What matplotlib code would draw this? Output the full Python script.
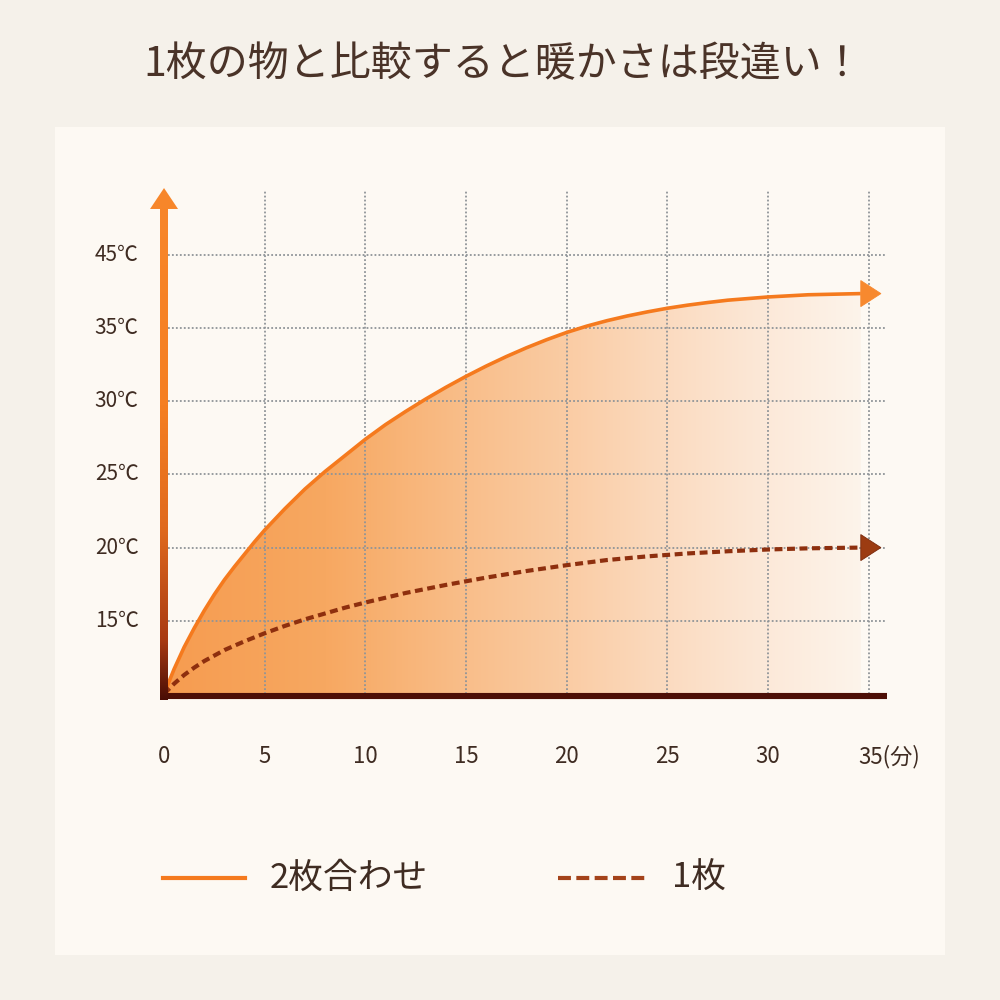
import numpy as np
import matplotlib
matplotlib.use("Agg")
import matplotlib.pyplot as plt
from matplotlib.colors import LinearSegmentedColormap
from matplotlib.patches import Polygon, Rectangle
from matplotlib.lines import Line2D
import matplotlib.transforms as mtransforms

plt.rcParams['font.family'] = ['Noto Sans CJK JP', 'DejaVu Sans']

# ---------------- data ----------------
title = "1枚の物と比較すると暖かさは段違い！"
series_names = ["2枚合わせ", "1枚"]

x_ticks = [0, 5, 10, 15, 20, 25, 30, 35]
x_tick_labels = ["0", "5", "10", "15", "20", "25", "30", "35(分)"]
y_ticks = [15, 20, 25, 30, 35, 40]
y_tick_labels = ["15℃", "20℃", "25℃", "30℃", "35℃", "45℃"]

minutes_double = [0, 0.5, 1, 1.5, 2, 2.5, 3, 3.5, 4, 4.5, 5, 6, 7, 8, 9, 10, 11,
                  12, 13, 14, 15, 16, 17, 18, 19, 20, 21, 22, 23, 24, 25, 26, 27,
                  28, 30, 32, 34.6]
temp_double = [10, 11.7, 13.2, 14.5, 15.7, 16.8, 17.8, 18.7, 19.55, 20.4, 21.2,
               22.65, 24.0, 25.2, 26.3, 27.4, 28.4, 29.3, 30.15, 30.95, 31.7,
               32.4, 33.05, 33.65, 34.2, 34.7, 35.13, 35.5, 35.82, 36.1, 36.35,
               36.56, 36.74, 36.9, 37.12, 37.27, 37.35]

minutes_single = [0, 0.5, 1, 1.5, 2, 3, 4, 5, 6, 7, 8, 9, 10, 12, 14, 16, 18, 20,
                  22, 24, 26, 28, 30, 32, 34.6]
temp_single = [10, 10.7, 11.3, 11.8, 12.25, 13.0, 13.6, 14.15, 14.65, 15.1, 15.5,
               15.9, 16.25, 16.9, 17.45, 17.95, 18.4, 18.8, 19.15, 19.4, 19.6,
               19.75, 19.87, 19.95, 20.0]

# ---------------- style ----------------
outer_bg = "#f5f1ea"
panel_bg = "#fdf9f3"
text_col = "#3f2c22"
title_col = "#4a3328"
orange = "#f57a1e"
orange_head = "#f7892f"
rust = "#8e2f0e"
rust_head = "#9c3c12"
grid_col = "#8f9498"

fig = plt.figure(figsize=(10, 10), dpi=100, facecolor=outer_bg)
fig.patches.append(Rectangle((0.055, 0.045), 0.89, 0.828, transform=fig.transFigure,
                             facecolor=panel_bg, edgecolor="none", zorder=-5))

fig.text(0.503, 0.935, title, ha="center", va="center", fontsize=29.5, color=title_col)

ax = fig.add_axes([0.160, 0.2987, 0.733, 0.5197])
ax.set_zorder(2)
ax.set_facecolor("none")
for s in ax.spines.values():
    s.set_visible(False)
ax.set_xticks([])
ax.set_yticks([])

xd = np.array(minutes_double)
yd = np.array(temp_double)
xs = np.array(minutes_single)
ys = np.array(temp_single)
base = 10

# gradient fill under the double curve
grad_stops = [(0.0, "#f69c50"), (8 / 35.6, "#f7a861"), (15 / 35.6, "#f9be8a"),
              (20 / 35.6, "#facca4"), (25 / 35.6, "#fbdbc0"), (30 / 35.6, "#fce9d9"),
              (1.0, "#fdf6ee")]
gcmap = LinearSegmentedColormap.from_list("g", grad_stops)
poly = Polygon(np.column_stack([np.r_[xd, xd[-1], 0], np.r_[yd, base, base]]),
               closed=True, facecolor="none", edgecolor="none", transform=ax.transData)
ax.add_patch(poly)
grad = gcmap(np.linspace(0, 1, 512))[np.newaxis, :, :3]
im = ax.imshow(grad, extent=[0, 35.6, base, 45], aspect="auto", origin="lower",
               zorder=1, interpolation="bilinear")
im.set_clip_path(poly)

# grid
for xv in x_ticks[1:]:
    ax.plot([xv, xv], [base, 44.4], color=grid_col, lw=1.3, ls=(0, (1, 1.2)), zorder=2)
for yv in y_ticks:
    ax.plot([0, 35.8], [yv, yv], color=grid_col, lw=1.3, ls=(0, (1, 1.2)), zorder=2)

# curves
ax.plot(xd, yd, color=orange, lw=2.6, zorder=4, solid_capstyle="butt",
        solid_joinstyle="round")
ax.plot(xs, ys, color=rust, lw=3.0, ls=(0, (1.9, 1.1)), zorder=4)

def head(xe, ye, color, ec):
    L, H = 1.0, 0.89
    ax.add_patch(Polygon([[xe, ye + H], [xe + L, ye], [xe, ye - H]], closed=True,
                         facecolor=color, edgecolor=ec, lw=0.6, zorder=5,
                         clip_on=False))

head(xd[-1], yd[-1], orange_head, orange_head)
head(xs[-1], ys[-1], rust_head, "#7a2a0c")

# x axis
ax.plot([-0.2, 35.9], [9.85, 9.85], color="#4d0f06", lw=4.4, solid_capstyle="butt",
        zorder=6, clip_on=False)

# y axis with vertical gradient colour
acmap = LinearSegmentedColormap.from_list("a", [(0, "#4a0d05"), (0.12, "#a83a12"),
                                               (0.35, "#e06a1e"), (0.6, "#f57f22"),
                                               (1.0, "#f8862a")])
vgrad = acmap(np.linspace(0, 1, 256))[:, np.newaxis, :3]
ax.imshow(vgrad, extent=[-0.18, 0.18, 9.6, 43.2], aspect="auto", origin="lower",
          zorder=6, interpolation="bilinear")
ax.add_patch(Polygon([[-0.695, 43.13], [0, 44.56], [0.695, 43.13]], closed=True,
                     facecolor="#f7862a", edgecolor="none", zorder=6, clip_on=False))

# tick labels
for yv, lab in zip(y_ticks, y_tick_labels):
    ax.text(-1.25, yv, lab, ha="right", va="center", fontsize=15, color=text_col,
            clip_on=False)
for xv, lab in zip(x_ticks, x_tick_labels):
    if lab == x_tick_labels[-1]:
        tr = mtransforms.offset_copy(ax.transData, fig=fig, x=-11, y=0, units="dots")
        ax.text(xv, 5.7, lab, ha="left", va="center", fontsize=16, color=text_col,
                transform=tr, clip_on=False)
    else:
        ax.text(xv, 5.7, lab, ha="center", va="center", fontsize=16, color=text_col,
                clip_on=False)

ax.set_xlim(-0.2, 36.2)
ax.set_ylim(9.5, 45)

# legend
ly = 1 - 0.878
fig.add_artist(Line2D([0.163, 0.245], [ly, ly], color=orange, lw=3.0,
                      transform=fig.transFigure))
fig.text(0.270, ly, series_names[0], ha="left", va="center", fontsize=25, color=text_col)
fig.add_artist(Line2D([0.558, 0.646], [ly, ly], color="#a4431a", lw=3.0,
                      ls=(0, (3.1, 1.3)), transform=fig.transFigure))
fig.text(0.672, ly, series_names[1], ha="left", va="center", fontsize=25, color=text_col)

fig.savefig("out.png", dpi=100, facecolor=outer_bg)
